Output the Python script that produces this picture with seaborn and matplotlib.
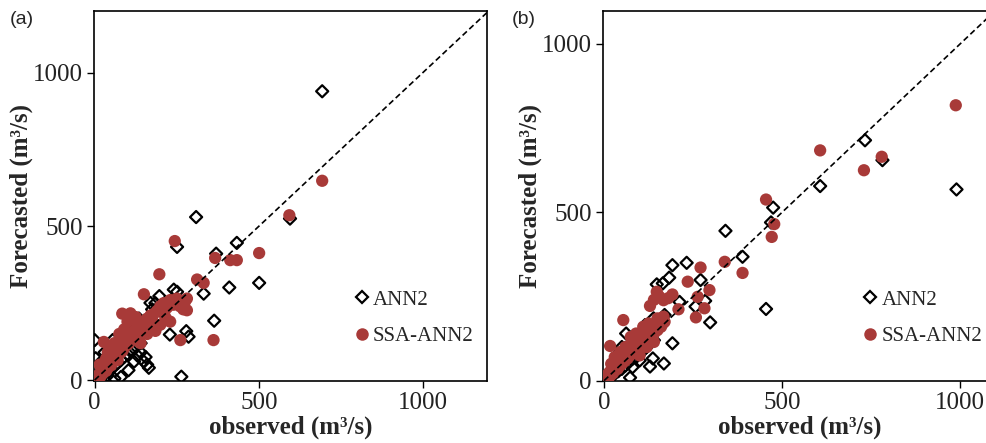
import matplotlib
matplotlib.use("Agg")
import matplotlib.pyplot as plt
import seaborn as sns
import pandas as pd
from matplotlib.lines import Line2D

# ---------------- data (observed, forecasted) ----------------
a_ann_obs = [693, 309, 251, 433, 370, 595, 501, 410, 332, 251, 241, 197, 170, 200, 364, 279, 286, 229, 264, 0, 135, 150, 155, 160, 165, 103, 80, 3,
             5, 10, 15, 20, 25, 30, 35, 40, 45, 50, 55, 60, 65, 70, 75, 80, 85, 90, 95, 100, 110, 115, 120, 125, 130, 140, 145, 60, 40, 120, 130, 20, 30, 100, 110, 125, 175, 185, 215, 55, 140]
a_ann_fc = [939, 530, 433, 446, 411, 525, 316, 301, 281, 287, 294, 273, 251, 227, 193, 159, 141, 148, 11, 130, 200, 60, 75, 50, 40, 32, 10, 71,
            10, 5, 25, 15, 40, 20, 55, 30, 60, 35, 80, 45, 90, 55, 100, 65, 115, 75, 120, 85, 140, 95, 165, 110, 180, 120, 185, 5, 15, 60, 80, 60, 90, 170, 190, 195, 230, 250, 230, 130, 90]

a_ssa_obs = [693, 593, 244, 501, 367, 413, 433, 197, 312, 332, 150, 231, 281, 281, 270, 362, 261, 109, 84, 28,
             2, 5, 8, 10, 12, 15, 18, 20, 25, 28, 30, 35, 38, 40, 45, 48, 50, 55, 58, 60, 65, 68, 70, 75, 78, 80, 85, 88, 90, 95, 98, 100, 105, 108, 110, 115, 120, 125, 130, 135, 140, 145, 150, 155, 160, 165, 170, 175, 180, 190, 200, 210, 220, 230, 240, 250, 260, 275, 40, 60, 75, 100, 35, 120, 125, 15, 50, 90, 140, 160, 185, 200, 230, 215]
a_ssa_fc = [648, 536, 452, 413, 397, 390, 390, 344, 327, 316, 279, 254, 265, 227, 230, 130, 130, 217, 216, 124,
            3, 8, 4, 15, 10, 20, 12, 28, 22, 35, 45, 30, 50, 40, 55, 65, 48, 70, 60, 85, 75, 95, 65, 100, 88, 110, 95, 120, 105, 130, 115, 140, 120, 150, 130, 145, 160, 140, 170, 155, 185, 165, 190, 175, 200, 185, 210, 195, 215, 225, 240, 250, 235, 260, 245, 265, 240, 255, 90, 120, 150, 190, 70, 195, 205, 50, 100, 165, 120, 150, 160, 180, 190, 205]

b_ann_obs = [990, 733, 782, 607, 475, 469, 455, 341, 389, 232, 192, 183, 165, 148, 271, 284, 257, 298, 212, 139, 115, 192, 168, 129, 137, 73, 62,
             5, 10, 15, 20, 25, 30, 35, 40, 45, 50, 55, 60, 65, 70, 75, 80, 85, 90, 95, 100, 105, 110, 115, 120, 130, 140, 150, 100, 80, 40, 50, 30, 160, 170]
b_ann_fc = [568, 714, 655, 578, 514, 470, 213, 445, 368, 350, 343, 306, 289, 286, 299, 237, 220, 173, 234, 185, 165, 111, 51, 42, 66, 9, 140,
            8, 5, 20, 12, 35, 20, 45, 28, 55, 35, 70, 45, 80, 55, 95, 65, 105, 70, 115, 80, 125, 90, 140, 100, 150, 120, 165, 60, 40, 80, 100, 60, 175, 195]

b_ssa_obs = [988, 607, 730, 780, 455, 478, 471, 339, 389, 271, 235, 296, 263, 282, 258, 192, 148, 167, 129, 209, 54, 17, 167, 180, 155, 140,
             2, 5, 8, 10, 12, 15, 18, 20, 25, 28, 30, 35, 38, 40, 45, 48, 50, 55, 58, 60, 65, 68, 70, 75, 78, 80, 85, 88, 90, 95, 98, 100, 105, 108, 110, 115, 120, 125, 130, 135, 140, 145, 150, 155, 160, 165, 170, 30, 45, 60, 20, 75, 90, 110, 125, 150, 100, 120, 140]
b_ssa_fc = [818, 684, 625, 665, 538, 465, 427, 353, 320, 336, 294, 269, 249, 215, 188, 256, 264, 239, 222, 212, 180, 103, 190, 245, 250, 240,
            3, 10, 5, 18, 8, 25, 15, 30, 22, 40, 30, 48, 35, 55, 45, 62, 50, 70, 58, 78, 65, 85, 72, 92, 80, 100, 88, 108, 95, 115, 103, 122, 110, 130, 118, 138, 125, 145, 132, 150, 140, 158, 150, 165, 160, 170, 175, 70, 85, 100, 50, 130, 140, 160, 170, 185, 75, 100, 115]

tick_vals = [0, 500, 1000]
tick_labels = ["0", "500", "1000"]
series_names = ["ANN2", "SSA-ANN2"]
panel_tags = ["(a)", "(b)"]

RED = "#a83a38"

sns.set_theme(style="white")
plt.rcParams["font.family"] = ["Liberation Serif", "DejaVu Serif"]

fig = plt.figure(figsize=(9.86, 4.43), dpi=100)
W, H = 986, 443

def px_axes(left, top, right, bottom):
    return fig.add_axes([left / W, 1 - bottom / H, (right - left) / W, (bottom - top) / H])

ax_a = px_axes(94, 11, 487, 381)
ax_b = px_axes(603, 11, 996, 381)

panels = [
    (ax_a, a_ann_obs, a_ann_fc, a_ssa_obs, a_ssa_fc, (-2, 1195), (-3, 1200), 0.633),
    (ax_b, b_ann_obs, b_ann_fc, b_ssa_obs, b_ssa_fc, (-3, 1101), (-1, 1098), 0.632),
]

for i, (ax, ao, af, so, sf, xl, yl, lx) in enumerate(panels):
    df_ann = pd.DataFrame({"obs": ao, "fc": af})
    df_ssa = pd.DataFrame({"obs": so, "fc": sf})
    sns.scatterplot(data=df_ann, x="obs", y="fc", ax=ax, marker="D", s=38,
                    facecolor="none", edgecolor="black", linewidth=1.6, zorder=3, legend=False)
    sns.scatterplot(data=df_ssa, x="obs", y="fc", ax=ax, marker="o", s=78,
                    color=RED, edgecolor="none", linewidth=0, zorder=4, legend=False)
    ax.plot([0, 1300], [0, 1300], color="black", linestyle=(0, (3.5, 2)), linewidth=1.2, zorder=5)
    ax.set_xlim(*xl)
    ax.set_ylim(*yl)
    ax.set_xticks(tick_vals)
    ax.set_xticklabels(tick_labels)
    ax.set_yticks(tick_vals)
    ax.set_yticklabels(tick_labels)
    ax.tick_params(axis="both", direction="out", length=5, width=1, color="black",
                   labelsize=18, labelcolor="#222222", bottom=True, left=True, pad=3)
    for sp in ax.spines.values():
        sp.set_color("black")
        sp.set_linewidth(1.2)
    ax.set_xlabel("observed (m³/s)", fontsize=18, fontweight="bold", labelpad=1)
    ax.set_ylabel("Forecasted (m³/s)", fontsize=18, fontweight="bold")
    ax.yaxis.set_label_coords(-0.155, 0.5)

    handles = [
        Line2D([], [], marker="D", linestyle="none", markersize=6.5, markerfacecolor="none",
               markeredgecolor="black", markeredgewidth=1.6),
        Line2D([], [], marker="o", linestyle="none", markersize=9, markerfacecolor=RED,
               markeredgecolor="none"),
    ]
    ax.legend(handles, series_names, frameon=False, fontsize=15,
              loc="center left", bbox_to_anchor=(lx, 0.17),
              handletextpad=0.05, handlelength=1.0, labelspacing=0.8, borderaxespad=0)

fig.text(10 / W, 1 - 20 / H, panel_tags[0], fontsize=14, family=["Liberation Sans", "DejaVu Sans"], va="center")
fig.text(512 / W, 1 - 20 / H, panel_tags[1], fontsize=14, family=["Liberation Sans", "DejaVu Sans"], va="center")

fig.savefig("out.png", dpi=100)
